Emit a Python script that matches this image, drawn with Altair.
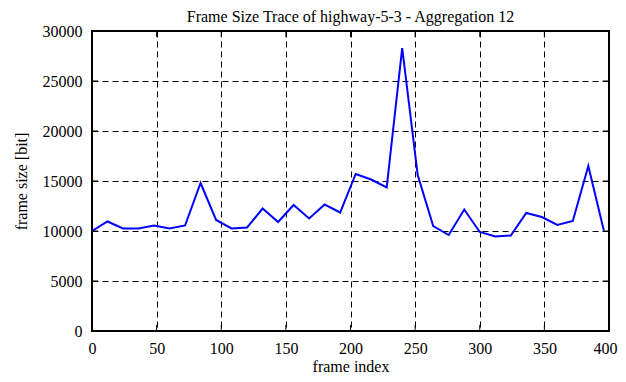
import altair as alt
import pandas as pd

frames = [0, 12, 24, 36, 48, 60, 72, 84, 96, 108, 120, 132, 144, 156, 168, 180, 192,
          204, 216, 228, 240, 252, 264, 276, 288, 300, 312, 324, 336, 348, 360, 372, 384, 396]
sizes = [10000, 10950, 10250, 10250, 10550, 10250, 10550, 14800, 11100, 10250, 10350,
         12250, 10900, 12600, 11250, 12650, 11850, 15700, 15150, 14350, 28300, 15600,
         10500, 9600, 12150, 9900, 9450, 9550, 11800, 11400, 10600, 11000, 16500, 10050]
x_ticks = [0, 50, 100, 150, 200, 250, 300, 350, 400]
y_ticks = [0, 5000, 10000, 15000, 20000, 25000, 30000]

W, H = 517, 300
FONT = "Liberation Serif"

df = pd.DataFrame({"frame": frames, "size": sizes})
xt = pd.DataFrame({"t": x_ticks})
yt = pd.DataFrame({"t": y_ticks})

xs = alt.Scale(domain=[0, 400], nice=False, zero=False)
ys = alt.Scale(domain=[0, 30000], nice=False)

line = alt.Chart(df).mark_line(color="#0000ff", strokeWidth=2).encode(
    x=alt.X("frame:Q", scale=xs,
            axis=alt.Axis(values=x_ticks, title="frame index", tickSize=0, labelPadding=9,
                          format="d", labelFlush=False,
                          labelOffset={"condition": {"test": "datum.value == 400", "value": -4},
                                       "value": 0},
                          grid=True, gridColor="black", gridDash=[6, 4], gridOpacity=1,
                          domain=False, titlePadding=2)),
    y=alt.Y("size:Q", scale=ys,
            axis=alt.Axis(values=y_ticks, title="frame size [bit]", tickSize=0, labelPadding=10,
                          format="d", labelFlush=False,
                          grid=True, gridColor="black", gridDash=[6, 4], gridOpacity=1,
                          domain=False, titlePadding=13)),
)

tick_style = dict(color="black", strokeWidth=1)
bottom_ticks = alt.Chart(xt).mark_rule(**tick_style).encode(
    x=alt.X("t:Q", scale=xs), y=alt.value(H), y2=alt.value(H - 6))
top_ticks = alt.Chart(xt).mark_rule(**tick_style).encode(
    x=alt.X("t:Q", scale=xs), y=alt.value(0), y2=alt.value(6))
left_ticks = alt.Chart(yt).mark_rule(**tick_style).encode(
    y=alt.Y("t:Q", scale=ys), x=alt.value(0), x2=alt.value(6))
right_ticks = alt.Chart(yt).mark_rule(**tick_style).encode(
    y=alt.Y("t:Q", scale=ys), x=alt.value(W), x2=alt.value(W - 6))

chart = alt.layer(line, bottom_ticks, top_ticks, left_ticks, right_ticks).properties(
    width=W, height=H,
    title=alt.TitleParams("Frame Size Trace of highway-5-3 - Aggregation 12",
                          font=FONT, fontSize=16, fontWeight="normal", color="black",
                          offset=2, dy=4),
    autosize=alt.AutoSizeParams(type="none"),
    padding={"left": 84, "top": 23, "right": 9, "bottom": 43},
).configure(
    background="white",
    view=alt.ViewConfig(stroke="black", strokeWidth=2),
    axis=alt.AxisConfig(labelFont=FONT, titleFont=FONT, labelFontSize=16, titleFontSize=16,
                        labelColor="black", titleColor="black", titleFontWeight="normal"),
)

chart.save("out.html", embed_options={"renderer": "svg", "actions": False})
